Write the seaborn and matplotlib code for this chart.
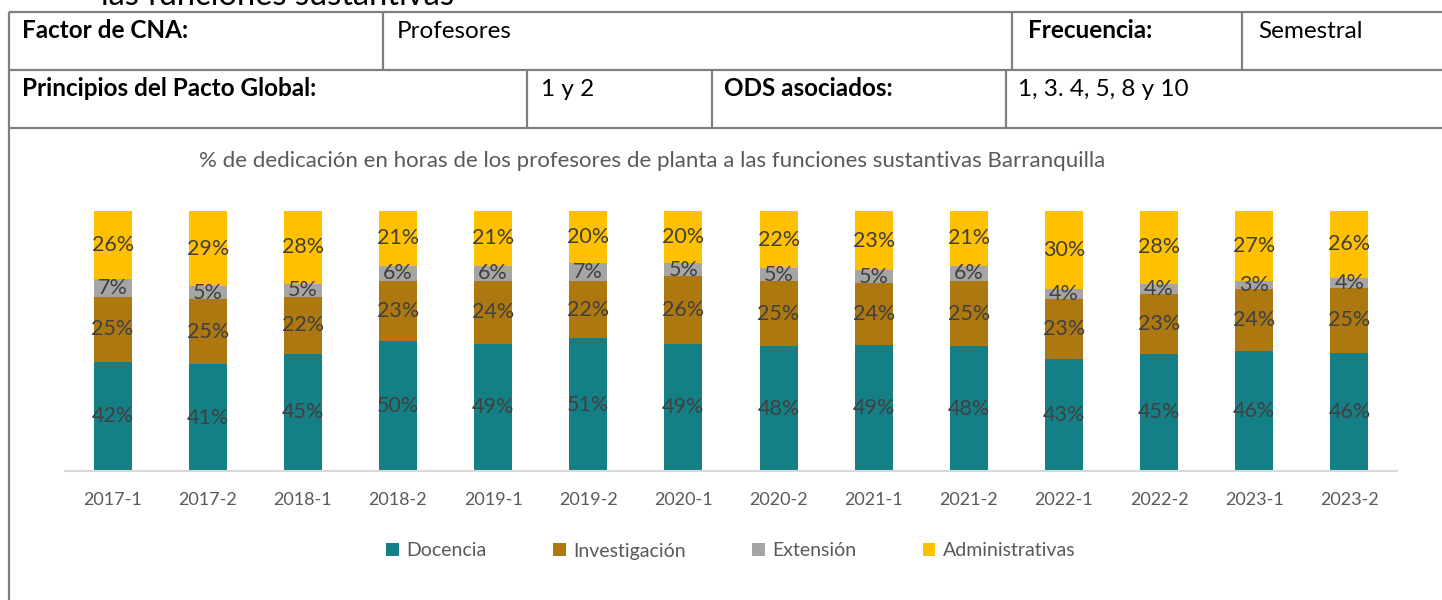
import matplotlib
matplotlib.use("Agg")
import matplotlib.pyplot as plt
import numpy as np
import pandas as pd
import seaborn as sns
from matplotlib.patches import Patch

sns.set_theme(style="white")
plt.rcParams["font.family"] = ["Lato", "DejaVu Sans"]

# data
periods = ["2017-1", "2017-2", "2018-1", "2018-2", "2019-1", "2019-2", "2020-1",
           "2020-2", "2021-1", "2021-2", "2022-1", "2022-2", "2023-1", "2023-2"]
docencia = [42, 41, 45, 50, 49, 51, 49, 48, 49, 48, 43, 45, 46, 46]
investigacion = [25, 25, 22, 23, 24, 22, 26, 25, 24, 25, 23, 23, 24, 25]
extension = [7, 5, 5, 6, 6, 7, 5, 5, 5, 6, 4, 4, 3, 4]
administrativas = [26, 29, 28, 21, 21, 20, 20, 22, 23, 21, 30, 28, 27, 26]

series_names = ["Docencia", "Investigación", "Extensión", "Administrativas"]
series_colors = ["#157F86", "#AD780F", "#A5A5A5", "#FFC000"]

title = "% de dedicación en horas de los profesores de planta a las funciones sustantivas Barranquilla"

df = pd.DataFrame({"periodo": periods, "Docencia": docencia,
                   "Investigación": investigacion, "Extensión": extension,
                   "Administrativas": administrativas})
totals = df[series_names].sum(axis=1)

W, H = 1442, 600
fig = plt.figure(figsize=(W / 100, H / 100), dpi=100)

# page / table background drawn in pixel space
bg = fig.add_axes([0, 0, 1, 1])
bg.set_xlim(0, W)
bg.set_ylim(H, 0)
bg.axis("off")

line_kw = dict(color="#7F7F7F", linewidth=1.6, solid_capstyle="butt")
for y in [12, 70, 128]:
    bg.plot([9, W], [y, y], **line_kw)
bg.plot([9, 9], [12, H], **line_kw)
for x in [383, 1012, 1242]:
    bg.plot([x, x], [12, 70], **line_kw)
for x in [527, 712, 1006]:
    bg.plot([x, x], [70, 128], **line_kw)

# heading of the page, cut by the top edge as in the screenshot
bg.text(101, 5, "las funciones sustantivas", fontsize=23.5, color="black",
        va="baseline", ha="left")

cells = [
    (22, 31, "Factor de CNA:", "bold"),
    (397, 31, "Profesores", "normal"),
    (1028, 31, "Frecuencia:", "bold"),
    (1258, 31, "Semestral", "normal"),
    (22, 89, "Principios del Pacto Global:", "bold"),
    (541, 89, "1 y 2", "normal"),
    (724, 89, "ODS asociados:", "bold"),
    (1018, 89, "1, 3. 4, 5, 8 y 10", "normal"),
]
for x, y, txt, wt in cells:
    bg.text(x, y, txt, fontsize=17.5, fontweight=wt, color="black",
            va="center", ha="left")

bg.text(652, 161, title, fontsize=16, color="#595959", ha="center", va="center")

# chart
ax = fig.add_axes([65 / W, (H - 471) / H, 1332 / W, 260 / H])
bottom = np.zeros(len(df))
for name, color in zip(series_names, series_colors):
    heights = df[name] / totals * 100
    sns.barplot(x=df["periodo"], y=heights.values, color=color, width=0.4,
                saturation=1, linewidth=0, bottom=bottom, ax=ax)
    ax.bar_label(ax.containers[-1], labels=[f"{v}%" for v in df[name]],
                 label_type="center", fontsize=15.5, color="#404040")
    bottom = bottom + heights.values

ax.set_xlim(-0.5, len(periods) - 0.5)
ax.set_ylim(0, 100)
ax.set_xlabel("")
ax.set_ylabel("")
ax.set_yticks([])
for side in ["top", "right", "left"]:
    ax.spines[side].set_visible(False)
ax.spines["bottom"].set_color("#D9D9D9")
ax.spines["bottom"].set_linewidth(1.5)
ax.tick_params(axis="x", length=0, pad=15, labelsize=13, labelcolor="#595959")
ax.patch.set_alpha(0)

handles = [Patch(facecolor=c, edgecolor="none") for c in series_colors]
leg = fig.legend(handles, series_names, loc="center", ncol=4,
                 bbox_to_anchor=(731 / W, 1 - 551 / H), frameon=False,
                 handlelength=0.65, handleheight=0.65, handletextpad=0.4,
                 columnspacing=3.4, fontsize=14)
for t in leg.get_texts():
    t.set_color("#595959")

fig.savefig("out.png", dpi=100)
